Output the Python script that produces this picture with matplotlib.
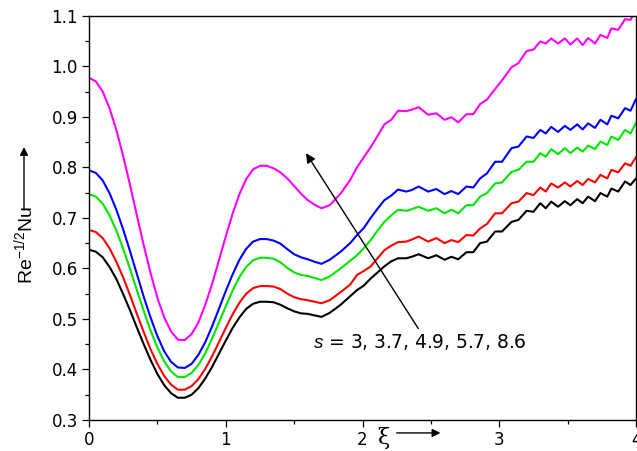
import numpy as np
import matplotlib
matplotlib.use("Agg")
import matplotlib.pyplot as plt
from matplotlib.ticker import MultipleLocator

plt.rcParams["mathtext.fontset"] = "custom"
plt.rcParams["mathtext.rm"] = "Liberation Sans"
plt.rcParams["mathtext.it"] = "Liberation Sans:italic"

# xi grid (shared by all curves)
xi = [0.0, 0.05, 0.1, 0.15, 0.2, 0.25, 0.3, 0.35, 0.4, 0.45, 0.5, 0.55, 0.6, 0.65, 0.7,
      0.75, 0.8, 0.85, 0.9, 0.95, 1.0, 1.05, 1.1, 1.15, 1.2, 1.25, 1.3,
      1.35, 1.4, 1.45, 1.5, 1.55, 1.6, 1.65, 1.7,
      1.76, 1.84, 1.91, 1.96, 2.01, 2.06, 2.11, 2.16, 2.21, 2.26, 2.32, 2.36, 2.41, 2.48, 2.54, 2.60,
      2.65, 2.70, 2.76, 2.81, 2.86, 2.91, 2.97, 3.02, 3.09, 3.14, 3.20, 3.25, 3.30, 3.34, 3.38, 3.43,
      3.48, 3.52, 3.57, 3.61, 3.65, 3.70, 3.74, 3.79, 3.82, 3.87, 3.92, 3.96, 4.0]

nu_s3 = [0.637, 0.633, 0.622, 0.603, 0.579, 0.549, 0.517, 0.483, 0.450, 0.419, 0.391, 0.369, 0.353, 0.344, 0.344,
         0.350, 0.363, 0.382, 0.405, 0.431, 0.457, 0.482, 0.503, 0.520, 0.530, 0.534, 0.534,
         0.533, 0.528, 0.521, 0.515, 0.511, 0.510, 0.507, 0.504,
         0.512, 0.528, 0.545, 0.557, 0.566, 0.580, 0.592, 0.604, 0.614, 0.620, 0.620, 0.623, 0.628, 0.620, 0.626, 0.617,
         0.623, 0.618, 0.632, 0.632, 0.650, 0.653, 0.673, 0.673, 0.692, 0.696, 0.714, 0.712, 0.729, 0.719, 0.732, 0.722,
         0.733, 0.725, 0.737, 0.729, 0.742, 0.733, 0.749, 0.742, 0.758, 0.752, 0.772, 0.765, 0.778]

nu_s37 = [0.676, 0.672, 0.660, 0.640, 0.613, 0.582, 0.547, 0.510, 0.474, 0.440, 0.411, 0.387, 0.370, 0.360, 0.360,
          0.367, 0.381, 0.401, 0.426, 0.454, 0.482, 0.509, 0.532, 0.550, 0.561, 0.565, 0.565,
          0.564, 0.559, 0.550, 0.543, 0.539, 0.537, 0.534, 0.531,
          0.537, 0.553, 0.568, 0.587, 0.595, 0.604, 0.620, 0.636, 0.645, 0.652, 0.653, 0.657, 0.663, 0.653, 0.660, 0.650,
          0.656, 0.652, 0.666, 0.665, 0.679, 0.688, 0.709, 0.709, 0.729, 0.732, 0.749, 0.745, 0.760, 0.752, 0.768, 0.760,
          0.770, 0.762, 0.773, 0.765, 0.777, 0.770, 0.785, 0.778, 0.795, 0.790, 0.808, 0.803, 0.820]

nu_s49 = [0.747, 0.742, 0.728, 0.705, 0.675, 0.639, 0.599, 0.557, 0.516, 0.477, 0.444, 0.416, 0.396, 0.385, 0.385,
          0.393, 0.409, 0.432, 0.461, 0.493, 0.525, 0.556, 0.583, 0.603, 0.616, 0.621, 0.621,
          0.619, 0.612, 0.601, 0.592, 0.587, 0.585, 0.581, 0.577,
          0.584, 0.600, 0.615, 0.626, 0.640, 0.656, 0.675, 0.692, 0.705, 0.716, 0.714, 0.717, 0.722, 0.714, 0.719, 0.709,
          0.716, 0.709, 0.725, 0.725, 0.742, 0.749, 0.768, 0.770, 0.791, 0.795, 0.811, 0.811, 0.828, 0.821, 0.836, 0.826,
          0.838, 0.828, 0.839, 0.831, 0.843, 0.836, 0.851, 0.844, 0.861, 0.854, 0.874, 0.867, 0.888]

nu_s57 = [0.794, 0.789, 0.774, 0.749, 0.716, 0.677, 0.634, 0.589, 0.544, 0.503, 0.466, 0.436, 0.415, 0.404, 0.403,
          0.411, 0.429, 0.454, 0.485, 0.520, 0.555, 0.588, 0.617, 0.639, 0.653, 0.658, 0.658,
          0.655, 0.649, 0.638, 0.628, 0.622, 0.618, 0.613, 0.609,
          0.617, 0.633, 0.650, 0.666, 0.680, 0.700, 0.718, 0.735, 0.744, 0.756, 0.752, 0.755, 0.762, 0.752, 0.757, 0.747,
          0.753, 0.747, 0.762, 0.760, 0.778, 0.788, 0.811, 0.811, 0.838, 0.841, 0.861, 0.858, 0.874, 0.867, 0.880, 0.870,
          0.882, 0.874, 0.885, 0.875, 0.887, 0.878, 0.894, 0.885, 0.902, 0.897, 0.917, 0.912, 0.935]

nu_s86 = [0.977, 0.970, 0.950, 0.917, 0.874, 0.822, 0.765, 0.705, 0.646, 0.591, 0.542, 0.503, 0.475, 0.459, 0.458,
          0.470, 0.493, 0.528, 0.569, 0.616, 0.663, 0.708, 0.747, 0.777, 0.796, 0.803, 0.803,
          0.798, 0.790, 0.778, 0.763, 0.748, 0.735, 0.726, 0.719,
          0.725, 0.748, 0.775, 0.800, 0.820, 0.840, 0.862, 0.885, 0.894, 0.912, 0.911, 0.914, 0.919, 0.904, 0.907, 0.894,
          0.899, 0.889, 0.905, 0.905, 0.925, 0.934, 0.955, 0.972, 0.998, 1.006, 1.030, 1.033, 1.049, 1.045, 1.055, 1.045,
          1.055, 1.043, 1.055, 1.042, 1.056, 1.045, 1.062, 1.056, 1.075, 1.072, 1.093, 1.092, 1.110]

curves = [nu_s3, nu_s37, nu_s49, nu_s57, nu_s86]
colors = ["black", "#ff0000", "#00e600", "#0000ff", "#ff00ff"]
s_label = r"$\it{s}$ = 3, 3.7, 4.9, 5.7, 8.6"

fig = plt.figure(figsize=(6.37, 4.51), dpi=100)
ax = fig.add_axes([89 / 637, 31 / 451, 547 / 637, 404.3 / 451])

for y, c in zip(curves, colors):
    ax.plot(xi, y, color=c, lw=1.5, solid_joinstyle="round", solid_capstyle="round")

ax.set_xlim(0, 4)
ax.set_ylim(0.3, 1.1)
ax.xaxis.set_major_locator(MultipleLocator(1))
ax.xaxis.set_minor_locator(MultipleLocator(0.5))
ax.yaxis.set_major_locator(MultipleLocator(0.1))
ax.yaxis.set_minor_locator(MultipleLocator(0.05))
ax.yaxis.set_major_formatter(matplotlib.ticker.FormatStrFormatter("%.1f"))
ax.tick_params(which="major", direction="out", length=5, width=0.9, labelsize=12, pad=3)
ax.tick_params(which="minor", direction="out", length=3, width=0.9)
for sp in ax.spines.values():
    sp.set_linewidth(1.0)

# arrow across the curves and parameter label
ax.annotate("", xy=(1.587, 0.828), xytext=(2.408, 0.481),
            arrowprops=dict(arrowstyle="-|>", color="black", lw=1.0, mutation_scale=14, shrinkA=0, shrinkB=0))
ax.text(1.638, 0.455, s_label, fontsize=13.5, ha="left", va="center")

# xi axis label with arrow
ax.text(2.15, -0.045, "\u03be", fontsize=16, family="DejaVu Serif", ha="center", va="center",
        transform=ax.get_xaxis_transform())
ax.annotate("", xy=(2.57, -0.032), xytext=(2.25, -0.032), xycoords=ax.get_xaxis_transform(),
            textcoords=ax.get_xaxis_transform(), annotation_clip=False,
            arrowprops=dict(arrowstyle="-|>", color="black", lw=1.0, mutation_scale=12, shrinkA=0, shrinkB=0))

# y label with arrow
fig.text(24 / 637, 1 - 245 / 451, r"$\mathrm{Re}^{-1/2}\mathrm{Nu}$", fontsize=14, rotation=90,
         ha="center", va="center")
fig.add_artist(matplotlib.patches.FancyArrowPatch((24 / 637, 1 - 210 / 451), (24 / 637, 1 - 147 / 451),
               transform=fig.transFigure, arrowstyle="-|>", color="black", lw=1.0, mutation_scale=12,
               shrinkA=0, shrinkB=0))

fig.savefig("out.png", dpi=100)
